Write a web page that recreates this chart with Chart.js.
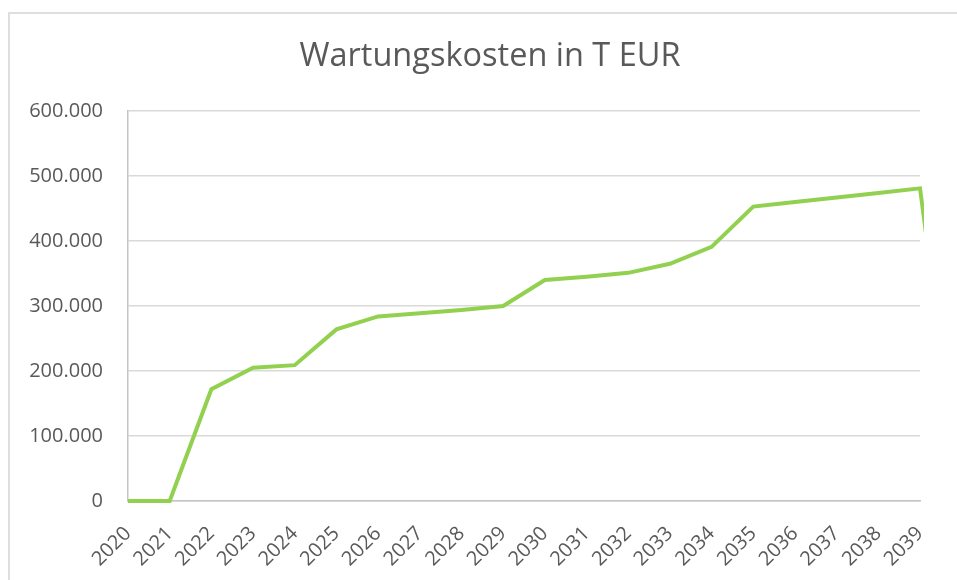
<!DOCTYPE html>
<html>
<head>
<meta charset="utf-8">
<script src="https://cdn.jsdelivr.net/npm/chart.js@4.4.1/dist/chart.umd.min.js"></script>
<style>
  html, body { margin: 0; padding: 0; background: #fff; overflow: hidden; }
  #frame {
    position: absolute; left: 8px; top: 12px; width: 1000px; height: 1000px;
    border-left: 2px solid #dedede; border-top: 2px solid #dedede;
  }
  #title {
    position: absolute; left: 0; top: 34px; width: 980px; text-align: center;
    font-family: "Open Sans", sans-serif; font-size: 32.5px; line-height: 40px; color: #595959;
  }
  #wrap { position: absolute; left: 0; top: 0; width: 957px; height: 580px; }
</style>
</head>
<body>
<div id="frame"></div>
<div id="wrap"><canvas id="costChart"></canvas></div>
<div id="title">Wartungskosten in T EUR</div>
<script>
// Wartungskosten in T EUR – Verlauf je Jahr
const years = ["2020", "2021", "2022", "2023", "2024", "2025", "2026", "2027", "2028", "2029",
               "2030", "2031", "2032", "2033", "2034", "2035", "2036", "2037", "2038", "2039", "2040"];
const costs = [0, 0, 172000, 205000, 209000, 264000, 284000, 289000, 294000, 300000,
               340000, 345000, 351000, 365000, 391000, 453000, 460000, 467000, 474000, 481000, 0];
const yTicks = [0, 100000, 200000, 300000, 400000, 500000, 600000];
const lastShownYear = years.indexOf("2039");

const TEXT = "#595959";
const GRID = "#d9d9d9";
const AXIS = "#c4c4c4";

const fmtDE = v => String(v).replace(/\B(?=(\d{3})+(?!\d))/g, ".");

new Chart(document.getElementById("costChart").getContext("2d"), {
  type: "line",
  data: {
    labels: years,
    datasets: [{
      data: costs,
      borderColor: "#92D050",
      borderWidth: 4,
      pointRadius: 0,
      tension: 0,
      fill: false,
      clip: { left: 4, right: 4, top: 4, bottom: 4 },
    }],
  },
  options: {
    responsive: true,
    maintainAspectRatio: false,
    animation: false,
    layout: { padding: { left: 0, right: 37, top: 111, bottom: 0 } },
    plugins: {
      legend: { display: false },
      tooltip: { enabled: false },
      title: { display: false },
    },
    scales: {
      x: {
        offset: false,
        // axis stops at 2039, the 2040 point only shows as the clipped tail
        afterDataLimits: s => { s.max = lastShownYear; },
        grid: { display: false, drawTicks: false },
        border: { display: true, color: AXIS, width: 1.5 },
        ticks: {
          color: TEXT, font: { family: "Open Sans", size: 20 },
          minRotation: 45, maxRotation: 45, padding: 21, autoSkip: false,
        },
        afterFit: s => { s.height = 79; s.paddingLeft = 0; s.paddingRight = 0; },
      },
      y: {
        min: 0,
        max: 600000,
        afterBuildTicks: s => { s.ticks = yTicks.map(v => ({ value: v })); },
        grid: { color: GRID, lineWidth: 1.5, drawTicks: false },
        border: { display: true, color: AXIS, width: 1.5 },
        ticks: {
          color: TEXT, font: { family: "Open Sans", size: 20 }, padding: 25,
          callback: v => fmtDE(v),
        },
        afterFit: s => { s.width = 128; },
      },
    },
  },
});
</script>
</body>
</html>
